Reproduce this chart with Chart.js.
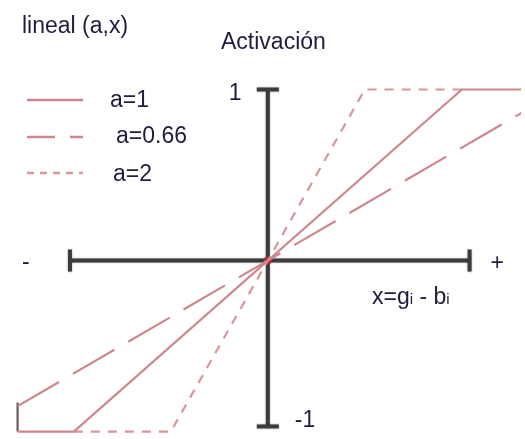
<!DOCTYPE html>
<html>
<head>
<meta charset="utf-8">
<script src="https://cdn.jsdelivr.net/npm/chart.js@4.4.0/dist/chart.umd.min.js"></script>
<style>
  body { margin: 0; background: #fff; }
  #wrap { width: 525px; height: 439px; }
</style>
</head>
<body>
<div id="wrap"><canvas id="activacion" width="525" height="439"></canvas></div>
<script>
// funcion lineal(a,x), saturada en +1 / -1
var linX1 = [-1.29, -1, 1, 1.31];
var linY1 = [-1, -1, 1, 1];
var linX066 = [-1.29, 1.31];
var linY066 = [-0.851, 0.865];
var linX2 = [-1, -0.5, 0.5, 1];
var linY2 = [-1, -1, 1, 1];
var edgeX = [-1.29, -1.29];
var edgeY = [-0.83, -1];
var axisX = [-1.02, 1.04];
var axisY = [-0.97, 1.0];
var seriesLabels = ["a=1", "a=0.66", "a=2"];

var textColor = "#201c3e";
var lineColor = "rgb(205,135,140)";
var fuente = "23px 'Liberation Sans', Arial, sans-serif";

var toPoints = function (xs, ys) {
    var pts = [];
    for (i = 0; i < xs.length; i++) {
        pts.push({x: xs[i], y: ys[i]});
    }
    return pts;
};

// ejes en cruz con topes en los extremos
var ejes = {
    id: 'ejes',
    beforeDatasetsDraw: function (chart) {
        var ctx = chart.ctx, sx = chart.scales.x, sy = chart.scales.y;
        var x0 = sx.getPixelForValue(0), y0 = sy.getPixelForValue(0);
        var xl = sx.getPixelForValue(axisX[0]), xr = sx.getPixelForValue(axisX[1]);
        var yt = sy.getPixelForValue(axisY[1]), yb = sy.getPixelForValue(axisY[0]);
        var seg = function (a, b, c, d) {
            ctx.beginPath(); ctx.moveTo(a, b); ctx.lineTo(c, d); ctx.stroke();
        };
        ctx.save();
        ctx.strokeStyle = "#3c3c3c";
        ctx.lineWidth = 4;
        ctx.shadowColor = "rgba(0,0,0,0.4)";
        ctx.shadowBlur = 2;
        seg(xl, y0, xr, y0);
        seg(xl, y0 - 11, xl, y0 + 11);
        seg(xr, y0 - 11, xr, y0 + 11);
        seg(x0, yt, x0, yb);
        seg(x0 - 11, yt, x0 + 11, yt);
        seg(x0 - 11, yb, x0 + 11, yb);
        ctx.restore();
    },
    afterDraw: function (chart) {
        var ctx = chart.ctx, sx = chart.scales.x, sy = chart.scales.y;
        var x0 = sx.getPixelForValue(0), y0 = sy.getPixelForValue(0);
        ctx.save();
        ctx.fillStyle = textColor;
        ctx.font = fuente;
        ctx.textBaseline = "alphabetic";
        ctx.fillText("lineal (a,x)", 22, 33);
        ctx.fillText("Activación", 221, 49);
        ctx.fillText("1", x0 - 39, sy.getPixelForValue(axisY[1]) + 10);
        ctx.fillText("-1", x0 + 27, sy.getPixelForValue(axisY[0]) + 1);
        ctx.fillText("-", 22, y0 + 8);
        ctx.fillText("+", sx.getPixelForValue(axisX[1]) + 21, y0 + 9);

        // x=gi - bi con subindices
        var px = 372, base = 304;
        var parts = [["x=g", false], ["i", true], [" - b", false], ["i", true]];
        parts.forEach(function (p) {
            ctx.font = p[1] ? "15px 'Liberation Sans', Arial, sans-serif" : fuente;
            ctx.fillText(p[0], px, base);
            px += ctx.measureText(p[0]).width;
        });

        // leyenda
        ctx.font = fuente;
        var legY = [100, 137, 173];
        var legTx = [110, 116, 113];
        var legBase = [107, 143, 181];
        for (k = 0; k < 3; k++) {
            var ds = chart.data.datasets[k];
            ctx.save();
            ctx.strokeStyle = ds.borderColor;
            ctx.lineWidth = 2.5;
            ctx.setLineDash(k == 1 ? [28, 15] : (k == 2 ? [7, 6] : []));
            ctx.beginPath();
            ctx.moveTo(27, legY[k]);
            ctx.lineTo(83, legY[k]);
            ctx.stroke();
            ctx.restore();
            ctx.fillText(seriesLabels[k], legTx[k], legBase[k]);
        }
        ctx.restore();
    }
};

var lineDs = function (label, xs, ys, dash, color) {
    return {
        label: label,
        data: toPoints(xs, ys),
        showLine: true,
        borderColor: color,
        borderWidth: 2.2,
        borderDash: dash,
        pointRadius: 0,
        fill: false
    };
};

var chartData = {
    datasets: [
        lineDs(seriesLabels[0], linX1, linY1, [], lineColor),
        lineDs(seriesLabels[1], linX066, linY066, [48, 16], lineColor),
        lineDs(seriesLabels[2], linX2, linY2, [9, 8], "rgb(215,150,154)"),
        lineDs("", edgeX, edgeY, [], "#6a5a5c"),
        {
            label: "",
            data: [{x: 0, y: 0}],
            pointRadius: 4,
            pointBackgroundColor: "rgb(175,40,45)",
            pointBorderWidth: 0
        }
    ]
};

var ctx = document.getElementById("activacion").getContext("2d");
new Chart(ctx, {
    type: 'scatter',
    data: chartData,
    options: {
        responsive: false,
        animation: false,
        layout: { padding: 0 },
        plugins: { legend: { display: false }, tooltip: { enabled: false } },
        scales: {
            x: { type: 'linear', min: -1.36, max: 1.305, display: false },
            y: { type: 'linear', min: -1.02, max: 1.50, display: false }
        }
    },
    plugins: [ejes]
});
</script>
</body>
</html>
